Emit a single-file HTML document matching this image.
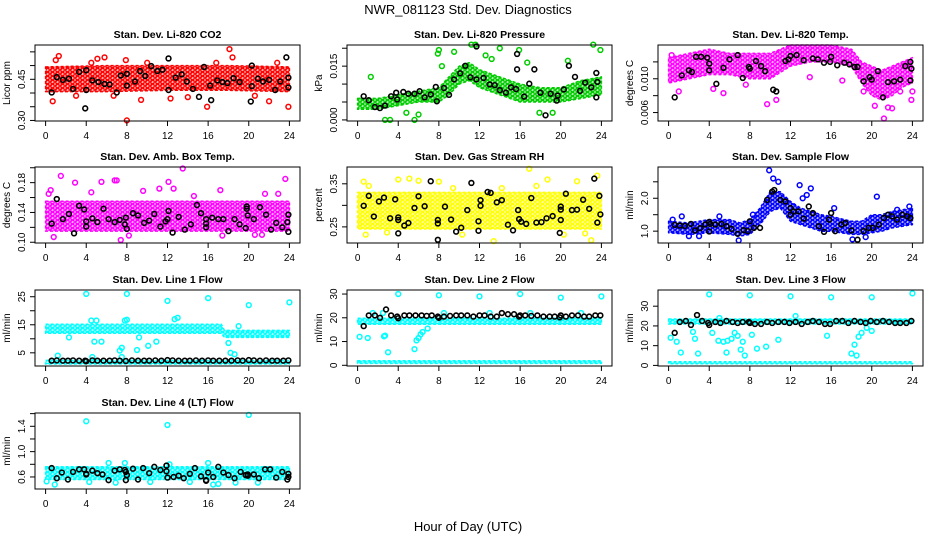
<!DOCTYPE html>
<html><head><meta charset="utf-8"><style>
body{margin:0;background:#fff;}
svg{display:block;font-family:"Liberation Sans",sans-serif;}
</style></head><body>
<svg id="c" width="936" height="540" viewBox="0 0 936 540">
<text x="468" y="14" text-anchor="middle" font-size="13">NWR_081123 Std. Dev. Diagnostics</text>
<text x="468" y="531" text-anchor="middle" font-size="13">Hour of Day (UTC)</text>
</svg>
<script>
// ---- data arrays ----
const xTicks = [0,4,8,12,16,20,24];
// CO2
const co2Hours=[0,6,12,18,24], co2Lower=[0.405,0.405,0.41,0.41,0.405], co2Upper=[0.495,0.50,0.50,0.50,0.495];
const co2Black=[[0.6,0.402],[1.1,0.458],[1.7,0.448],[2.3,0.452],[2.7,0.415],[3.3,0.477],[3.9,0.344],[4.0,0.411],[4.0,0.483],[4.6,0.446],[5.2,0.44],[5.8,0.433],[6.3,0.431],[7.0,0.402],[7.4,0.464],[8.0,0.47],[8.0,0.427],[8.8,0.442],[9.3,0.48],[9.8,0.462],[10.4,0.498],[11.0,0.48],[11.5,0.485],[12.1,0.411],[12.1,0.526],[12.8,0.456],[13.4,0.468],[13.9,0.442],[14.5,0.415],[15.1,0.386],[15.6,0.495],[16.2,0.427],[16.3,0.374],[16.9,0.446],[17.4,0.44],[17.9,0.436],[18.5,0.454],[19.1,0.44],[20.2,0.369],[20.3,0.425],[20.3,0.50],[20.9,0.452],[21.4,0.442],[22.0,0.448],[22.6,0.411],[23.1,0.442],[23.7,0.53],[23.9,0.456],[23.9,0.42]];
const co2Out=[[8.0,0.30],[18.1,0.56],[1.3,0.535],[5.1,0.525],[0.7,0.37],[15.9,0.35],[23.9,0.35],[1.0,0.52],[4.5,0.51],[5.8,0.53],[7.9,0.52],[10.0,0.51],[16.8,0.51],[18.4,0.53],[22.8,0.51],[9.4,0.375],[12.3,0.38],[20.6,0.39],[22.0,0.37],[3.0,0.39],[6.7,0.39],[14.0,0.385]];
const co2Ticks=[0.30,0.35,0.40,0.45,0.50,0.55], co2Labels=["0.30","","","0.45","",""];
// Pressure
const prHours=[0,2,4,6,8,9,10,11,12,14,16,18,20,22,24];
const prLower=[0.003,0.003,0.004,0.005,0.005,0.007,0.010,0.011,0.009,0.007,0.005,0.005,0.005,0.006,0.007];
const prUpper=[0.006,0.006,0.007,0.008,0.009,0.012,0.015,0.016,0.014,0.012,0.010,0.009,0.009,0.011,0.012];
const prBlack=[[0.6,0.0066],[1.1,0.0055],[1.7,0.0036],[2.2,0.0033],[2.7,0.004],[3.3,0.0066],[3.8,0.0076],[3.9,0.0057],[4.5,0.0078],[5.0,0.0073],[5.6,0.0073],[6.1,0.008],[6.6,0.0063],[7.2,0.0071],[7.7,0.0092],[7.8,0.0052],[8.5,0.0089],[9.0,0.007],[9.5,0.0113],[10.1,0.013],[10.6,0.0151],[11.1,0.0119],[11.7,0.0113],[11.7,0.0205],[12.4,0.0117],[13.0,0.0099],[13.5,0.0097],[14.0,0.0083],[14.6,0.0076],[15.1,0.0091],[15.6,0.0086],[15.7,0.0184],[15.7,0.0141],[16.4,0.0065],[16.9,0.0101],[17.4,0.0141],[18.0,0.0076],[18.5,0.0013],[19.0,0.0073],[19.6,0.0054],[19.7,0.0068],[20.3,0.0085],[20.8,0.0151],[21.4,0.012],[21.9,0.0081],[22.4,0.0104],[23.0,0.0091],[23.5,0.0131],[23.5,0.0063],[23.6,0.0106]];
const prOut=[[2.7,0],[3.2,0],[5.6,0],[8.0,0.0195],[9.5,0.019],[11.2,0.021],[11.6,0.021],[14.0,0.02],[15.9,0.0195],[23.2,0.021],[23.9,0.0195],[1.3,0.012],[4.8,0.002],[7.9,0.0185],[17.9,0.002],[6.0,0.0015],[19.2,0.002],[8.3,0.015],[12.6,0.018],[13.2,0.017],[16.7,0.016],[20.7,0.0165]];
const prTicks=[0,0.005,0.010,0.015,0.020], prLabels=["0.000","","","0.015",""];
// Li-820 temp
const tpHours=[0,2,4,6,8,10,12,14,16,18,19,20,21,22,23,24];
const tpLower=[0.0095,0.0100,0.0105,0.0105,0.0100,0.0100,0.0115,0.0120,0.0120,0.0115,0.0095,0.0080,0.0075,0.0080,0.0090,0.0095];
const tpUpper=[0.0125,0.0130,0.0135,0.0130,0.0130,0.0130,0.0140,0.0140,0.0140,0.0135,0.0120,0.0115,0.0110,0.0115,0.0120,0.0125];
const tpBlack=[[0.6,0.0078],[1.3,0.0104],[2.0,0.011],[2.3,0.0108],[2.7,0.0126],[3.2,0.0126],[3.8,0.0125],[4.0,0.0118],[4.0,0.011],[4.7,0.0094],[5.4,0.0113],[6.0,0.0123],[6.8,0.0128],[7.3,0.0101],[7.9,0.0114],[8.0,0.0112],[8.6,0.0121],[9.1,0.0115],[9.5,0.0109],[10.3,0.0087],[10.6,0.0085],[11.5,0.0121],[11.8,0.0123],[12.0,0.0127],[12.6,0.0128],[13.3,0.0122],[14.2,0.0124],[14.7,0.0123],[15.3,0.0119],[15.9,0.012],[16.0,0.0126],[16.6,0.0116],[17.3,0.0119],[17.8,0.0117],[18.3,0.0114],[18.6,0.0114],[19.2,0.0097],[19.8,0.0102],[20.0,0.0099],[20.6,0.0109],[21.1,0.0078],[21.6,0.0096],[22.2,0.0097],[22.8,0.0099],[23.3,0.0115],[23.8,0.012],[23.9,0.0112],[23.8,0.0098]];
const tpOut=[[21.2,0.0053],[20.3,0.0068],[22.0,0.0065],[21.6,0.0066],[9.7,0.007],[5.4,0.0083],[0.3,0.0128],[24.0,0.0085],[23.9,0.0075],[10.6,0.0075],[7.6,0.0093],[4.4,0.0088],[1.0,0.0085],[19.2,0.0085],[22.8,0.0085],[13.9,0.0102],[17.1,0.0098]];
const tpTicks=[0.006,0.008,0.010,0.012], tpLabels=["0.006","","0.010",""];
// Amb box temp
const abHours=[0,24], abLower=[0.115,0.115], abUpper=[0.155,0.155];
const abBlack=[[0.6,0.125],[1.1,0.158],[1.7,0.131],[2.3,0.138],[2.8,0.112],[3.3,0.149],[3.8,0.144],[4.0,0.128],[4.0,0.121],[4.6,0.132],[5.1,0.127],[5.7,0.145],[6.2,0.131],[6.8,0.127],[7.3,0.13],[7.8,0.124],[7.9,0.133],[8.0,0.118],[8.6,0.139],[9.1,0.136],[9.7,0.126],[10.2,0.129],[10.7,0.138],[11.3,0.121],[11.8,0.128],[12.0,0.131],[12.1,0.142],[12.5,0.113],[13.1,0.134],[13.7,0.117],[14.3,0.124],[14.9,0.15],[15.3,0.139],[15.8,0.131],[15.8,0.125],[15.8,0.12],[16.4,0.133],[17.0,0.131],[17.5,0.131],[18.0,0.115],[18.6,0.131],[19.1,0.124],[19.7,0.119],[19.8,0.145],[19.8,0.148],[19.9,0.136],[20.5,0.131],[21.1,0.147],[21.7,0.137],[22.2,0.117],[22.7,0.126],[23.3,0.12],[23.8,0.127],[23.9,0.137],[23.9,0.114]];
const abOut=[[1.5,0.189],[2.9,0.18],[5.5,0.181],[6.8,0.183],[7.0,0.183],[13.5,0.199],[23.6,0.185],[0.8,0.107],[7.4,0.103],[12.1,0.181],[0.3,0.165],[17.4,0.109],[0.5,0.17],[4.5,0.167],[9.6,0.169],[11.2,0.172],[12.6,0.172],[14.6,0.162],[17.2,0.17],[21.6,0.165],[22.9,0.165],[8.2,0.109],[20.6,0.11],[21.3,0.11]];
const abTicks=[0.10,0.12,0.14,0.16,0.18,0.20], abLabels=["0.10","","0.14","","0.18",""];
// Gas stream RH
const rhHours=[0,24], rhLower=[0.245,0.245], rhUpper=[0.33,0.33];
const rhBlack=[[0.6,0.299],[1.1,0.322],[1.6,0.274],[2.1,0.309],[2.6,0.318],[3.2,0.27],[3.7,0.314],[4.0,0.272],[4.0,0.266],[4.0,0.235],[4.6,0.253],[5.0,0.259],[5.6,0.294],[6.0,0.321],[6.6,0.298],[7.2,0.356],[7.9,0.266],[7.9,0.258],[7.9,0.22],[8.6,0.297],[9.2,0.267],[9.7,0.239],[10.2,0.248],[10.8,0.289],[11.2,0.352],[11.9,0.241],[11.9,0.263],[12.1,0.299],[12.1,0.312],[12.8,0.331],[13.1,0.329],[13.7,0.307],[14.2,0.312],[14.8,0.255],[15.3,0.242],[15.8,0.289],[15.9,0.268],[16.1,0.262],[16.6,0.257],[17.1,0.317],[17.6,0.26],[18.1,0.261],[18.6,0.27],[19.2,0.275],[19.9,0.236],[20.0,0.266],[20.0,0.297],[20.0,0.29],[20.5,0.327],[21.1,0.289],[21.6,0.29],[22.2,0.313],[22.8,0.292],[23.3,0.362],[23.6,0.26],[23.8,0.322],[23.9,0.279]];
const rhOut=[[16.9,0.385],[13.4,0.217],[23.0,0.219],[0.6,0.355],[4.0,0.36],[5.1,0.362],[6.0,0.357],[18.7,0.36],[21.6,0.356],[23.6,0.369],[14.2,0.34],[8.0,0.355],[1.1,0.345],[9.4,0.34],[17.6,0.345],[0.8,0.232],[10.3,0.232],[20.3,0.232],[22.4,0.235],[2.9,0.237]];
const rhTicks=[0.25,0.30,0.35], rhLabels=["0.25","","0.35"];
// Sample flow
const sfHours=[0,2,4,6,7,8,9,10,11,12,13,14,15,16,18,19,20,21,22,24];
const sfLower=[0.95,0.9,0.95,0.9,0.85,0.9,1.2,1.6,1.7,1.3,1.2,1.1,1.0,1.0,0.9,0.9,0.95,1.0,1.1,1.2];
const sfUpper=[1.3,1.25,1.35,1.35,1.25,1.35,1.7,2.2,2.2,1.9,1.7,1.6,1.5,1.45,1.3,1.3,1.5,1.5,1.6,1.7];
const sfBlack=[[0.6,1.19],[1.1,1.17],[1.6,1.16],[2.2,1.22],[2.6,1.02],[3.1,1.09],[3.6,1.2],[4.0,1.28],[4.0,0.99],[4.1,1.22],[4.6,1.2],[5.2,1.22],[5.7,1.15],[6.2,1.07],[6.8,0.92],[7.4,1.03],[7.8,1.0],[8.0,1.3],[8.4,1.1],[9.0,1.1],[9.7,1.95],[10.2,2.2],[10.4,2.25],[11.0,1.95],[11.5,1.9],[12.0,1.5],[12.0,1.7],[12.3,1.6],[12.8,1.6],[13.3,1.38],[13.8,1.75],[14.2,1.55],[14.8,1.15],[15.3,0.98],[15.8,1.35],[16.0,1.55],[16.4,1.0],[17.0,1.2],[17.4,1.25],[18.0,1.02],[18.6,0.74],[19.2,1.0],[19.7,1.1],[20.1,1.1],[20.7,1.2],[21.2,1.4],[21.6,1.5],[22.0,1.45],[22.5,1.35],[23.0,1.5],[23.5,1.45],[23.8,1.4]];
const sfOut=[[9.9,2.85],[10.3,2.6],[10.8,2.5],[12.9,2.4],[14.0,2.3],[20.5,2.05],[0.4,1.35],[1.3,1.45],[6.9,0.72],[18.1,0.75],[23.7,1.75],[22.5,1.65],[13.2,2.0],[13.6,2.1],[16.3,1.7],[5.0,1.45],[8.3,1.5],[2.0,0.85],[3.0,0.85],[19.4,0.82]];
const sfTicks=[1.0,1.5,2.0,2.5], sfLabels=["1.0","","2.0",""];
// Line 1 flow
const l1Hours=[0,17.3,17.6,24], l1Lower=[12,12,10.5,10.5], l1Upper=[15.2,15.2,13,13];
const l1BaseHours=[0,24], l1BaseLower=[1.0,1.0], l1BaseUpper=[2.3,2.3];
const l1Black=[[0.6,2.2],[1.1,2.3],[1.7,2.2],[2.2,2.2],[2.7,2.3],[3.3,2.2],[3.9,2.2],[4.0,2.0],[4.6,2.3],[5.1,2.2],[5.7,2.2],[6.3,2.2],[6.8,2.3],[7.3,2.2],[7.9,2.1],[8.5,2.3],[9.1,2.2],[9.7,2.2],[10.2,2.2],[10.8,2.3],[11.4,2.2],[12.0,2.4],[12.5,2.3],[13.1,2.2],[13.7,2.2],[14.2,2.2],[14.8,2.3],[15.4,2.2],[16.0,2.3],[16.5,2.2],[17.1,2.2],[17.7,2.2],[18.3,2.2],[18.9,2.3],[19.4,2.2],[20.0,2.4],[20.5,2.3],[21.1,2.2],[21.7,2.3],[22.3,2.2],[22.8,2.2],[23.4,2.2],[23.9,2.3]];
const l1Out=[[4.0,26],[8.0,26],[12.0,23.5],[16.0,24.5],[20.0,22],[24.0,23],[4.5,16.5],[5.0,16.5],[4.8,9],[5.5,9],[7.3,5.8],[7.5,6.8],[9.0,6],[9.2,10.5],[10.1,7.5],[10.9,9],[7.8,16.5],[8.0,16.8],[12.7,17],[13.0,17.5],[18.0,8.5],[18.2,5],[18.6,4.5],[19.0,14.5],[1.2,4],[4.6,3.5],[7.5,3.5],[2.3,10.5]];
const l1Ticks=[5,10,15,20,25], l1Labels=["5","","15","","25"];
// Line 2 flow
const l2Hours=[0,24], l2Lower=[17.3,17.3], l2Upper=[19.8,19.8];
const l2BaseHours=[0,24], l2BaseLower=[0.8,0.8], l2BaseUpper=[1.9,1.9];
const l2Black=[[0.6,16.5],[1.1,21],[1.7,21],[2.2,20],[2.8,23.5],[3.3,21],[3.9,20.5],[4.0,19.8],[4.6,21],[5.1,21],[5.7,21],[6.3,21],[6.8,20.8],[7.3,21],[7.9,20.5],[8.0,20],[8.5,20.5],[9.1,20.8],[9.7,21],[10.2,21],[10.8,21],[11.4,20.5],[12.0,21],[12.5,21],[13.1,20.5],[13.7,20.5],[14.2,22],[14.8,21.5],[15.4,21.5],[15.9,20.5],[16.0,21],[16.5,21],[17.1,20.8],[17.7,21],[18.3,20.5],[18.9,20.5],[19.4,20.5],[19.9,20.2],[20.0,21],[20.5,20.5],[21.1,21],[21.7,21],[22.3,20.5],[22.8,20.5],[23.4,21],[23.9,21]];
const l2Out=[[4.0,30],[8.0,29.5],[12.0,29],[16.0,30],[20.0,28.5],[24.0,29],[0.2,12],[1.0,11.5],[2.6,12.2],[3.0,5.5],[5.6,6.8],[5.8,10.5],[6.0,11.5],[6.2,13],[6.4,14],[6.9,15.5],[2.7,12.5],[1.5,22],[2.5,22],[8.5,22],[13,22],[17,22],[22,22]];
const l2Ticks=[0,10,20,30], l2Labels=["0","10","20","30"];
// Line 3 flow
const l3Hours=[0,24], l3Lower=[21,21], l3Upper=[23.5,23.5];
const l3BaseHours=[0,24], l3BaseLower=[0.8,0.8], l3BaseUpper=[1.9,1.9];
const l3Black=[[0.6,16.5],[1.1,22],[1.7,22.5],[2.2,20.5],[2.8,25.5],[3.3,22.5],[3.9,21.5],[4.0,20.5],[4.6,22],[5.1,21.5],[5.7,22.5],[6.3,22],[6.8,21.5],[7.3,22],[7.9,22],[8.0,21.5],[8.5,21],[9.1,21],[9.7,22],[10.2,21.5],[10.8,22],[11.4,22],[11.9,21.5],[12.5,22],[13.1,21],[13.7,22],[14.2,22.5],[14.8,22],[15.4,21],[15.9,21],[16.5,22.5],[17.1,22.5],[17.7,21.5],[18.3,22.5],[18.9,22],[19.4,21.5],[19.9,22.5],[20.5,22],[21.1,22.5],[21.7,22],[22.3,21.5],[22.8,21.5],[23.4,21.5],[23.9,22.5]];
const l3Out=[[4.0,36],[8.0,35.5],[12.0,35],[16.0,34.5],[20.0,34.5],[24.0,36.5],[0.2,14],[0.8,12],[1.2,6.5],[2.4,17],[2.6,13.5],[2.9,6],[4.3,16.5],[4.9,12.5],[5.4,12],[5.7,6.5],[5.8,12.5],[6.2,13.5],[6.5,16.5],[6.8,15],[7.1,8],[7.3,12],[7.5,5],[8.2,15.5],[8.7,8.5],[9.6,9.5],[10.8,13],[15.6,15],[18.3,10.5],[18.0,6],[18.5,5],[18.7,14.5],[19.0,16.5],[19.5,19],[20.0,17.5],[12.5,25],[5,24]];
const l3Ticks=[0,10,20,30], l3Labels=["0","10","20","30"];
// Line 4 flow
const l4Hours=[0,24], l4Lower=[0.56,0.56], l4Upper=[0.76,0.76];
const l4Black=[[0.6,0.74],[1.1,0.58],[1.6,0.67],[2.2,0.56],[2.7,0.68],[3.3,0.72],[3.8,0.72],[4.0,0.65],[4.0,0.64],[4.6,0.7],[5.1,0.66],[5.6,0.64],[6.2,0.55],[6.8,0.7],[7.3,0.72],[7.8,0.71],[7.9,0.68],[7.9,0.55],[8.0,0.63],[8.6,0.73],[9.1,0.56],[9.6,0.74],[10.2,0.66],[10.7,0.76],[11.3,0.71],[11.9,0.69],[11.9,0.78],[12.0,0.59],[12.6,0.6],[13.1,0.62],[13.6,0.58],[14.2,0.65],[14.7,0.74],[15.3,0.61],[15.8,0.55],[15.8,0.54],[16.0,0.67],[16.5,0.6],[17.0,0.76],[17.5,0.67],[18.0,0.63],[18.6,0.58],[19.2,0.68],[19.7,0.63],[19.9,0.62],[19.9,0.64],[20.5,0.64],[21.0,0.58],[21.6,0.72],[22.1,0.72],[22.7,0.59],[23.3,0.68],[23.8,0.56],[23.9,0.65],[23.9,0.6]];
const l4Out=[[4.0,1.48],[12.0,1.42],[20.0,1.58],[0.9,0.48],[16.5,0.48],[7.8,0.82],[16.0,0.82],[6.2,0.82],[12.2,0.8],[0.1,0.53],[4.3,0.52],[6.9,0.51],[10.3,0.52],[14.2,0.52],[17.0,0.49],[20.9,0.51],[18.7,0.51]];
const l4Ticks=[0.6,0.8,1.0,1.2,1.4,1.6], l4Labels=["0.6","","1.0","","1.4",""];

// ---- rendering ----
const NS="http://www.w3.org/2000/svg";
const svg=document.getElementById('c');
function mk(tag,attrs,parent){const e=document.createElementNS(NS,tag);for(const k in attrs)e.setAttribute(k,attrs[k]);(parent||svg).appendChild(e);return e;}
const defs=mk('defs',{});
function pattern(id,color){
  const p=mk('pattern',{id:id,width:5,height:4,patternUnits:'userSpaceOnUse'},defs);
  mk('rect',{x:0,y:0,width:5,height:4,fill:color,opacity:0.3},p);
  mk('circle',{cx:2.5,cy:2,r:1.8,fill:'none',stroke:color,'stroke-width':1.3},p);
  mk('circle',{cx:0,cy:0,r:1.8,fill:'none',stroke:color,'stroke-width':1.3},p);
}
const colLeft=[35,347,658], rowTop=[45,167,290,413], W=265, H=76;
function panel(o){
  const g=mk('g',{});
  
  
  const L=colLeft[o.col], T=rowTop[o.row];
  const xs=h=>L+W*0.04+ (h/24)*W*0.92;
  const ys=v=>T+H-(v-o.ymin)/(o.ymax-o.ymin)*H;
  const pid='pat-'+o.name; pattern(pid,o.color);
  o.bands.forEach(b=>{
    let d='';
    b.h.forEach((h,i)=>{d+=(i?'L':'M')+xs(h).toFixed(1)+','+ys(b.up[i]).toFixed(1);});
    for(let i=b.h.length-1;i>=0;i--) d+='L'+xs(b.h[i]).toFixed(1)+','+ys(b.lo[i]).toFixed(1);
    const band=mk('path',{d:d+'Z',fill:'url(#'+pid+')',stroke:o.color,'stroke-width':1.5,'stroke-dasharray':'3 2','stroke-linejoin':'round'},g);
    
    
  });
  o.out.forEach(p=>{
    const c=mk('circle',{cx:xs(p[0]),cy:ys(p[1]),r:2.4,fill:'none',stroke:o.color,'stroke-width':1.5},g);
    
    
  });
  o.black.forEach(p=>{
    const c=mk('circle',{cx:xs(p[0]),cy:ys(p[1]),r:2.4,fill:'none',stroke:'#000','stroke-width':1.6},g);
    
    
  });
  const box=mk('rect',{x:L,y:T,width:W,height:H,fill:'none',stroke:'#000','stroke-width':1},g);
  
  
  xTicks.forEach(t=>{
    mk('line',{x1:xs(t),x2:xs(t),y1:T+H,y2:T+H+5,stroke:'#000'},g);
    const tx=mk('text',{x:xs(t),y:T+H+18,'text-anchor':'middle','font-size':10},g);
    tx.textContent=t;
    
    
  });
  o.ticks.forEach((t,i)=>{
    mk('line',{x1:L-5,x2:L,y1:ys(t),y2:ys(t),stroke:'#000'},g);
    if(o.labels[i]){
      const tx=mk('text',{x:L-10,y:ys(t),'text-anchor':'middle','font-size':10,transform:'rotate(-90 '+(L-10)+' '+ys(t)+')'},g);
      tx.textContent=o.labels[i];
      
      
    }
  });
  const yl=mk('text',{x:L-25,y:T+H/2,'text-anchor':'middle','font-size':10,transform:'rotate(-90 '+(L-25)+' '+(T+H/2)+')'},g);
  yl.textContent=o.ylab;
  
  
  const ti=mk('text',{x:L+W/2,y:T-7,'text-anchor':'middle','font-size':10.5,'font-weight':'bold'},g);
  ti.textContent=o.title;
  
  
}
panel({name:'co2-panel',col:0,row:0,ymin:0.298,ymax:0.575,color:'#ff0000',title:'Stan. Dev. Li-820 CO2',ylab:'Licor ppm',ticks:co2Ticks,labels:co2Labels,bands:[{h:co2Hours,lo:co2Lower,up:co2Upper}],black:co2Black,out:co2Out});
panel({name:'pressure-panel',col:1,row:0,ymin:-0.0003,ymax:0.0209,color:'#00cc00',title:'Stan. Dev. Li-820 Pressure',ylab:'kPa',ticks:prTicks,labels:prLabels,bands:[{h:prHours,lo:prLower,up:prUpper}],black:prBlack,out:prOut});
panel({name:'temp-panel',col:2,row:0,ymin:0.005,ymax:0.014,color:'#ff00ff',title:'Stan. Dev. Li-820 Temp.',ylab:'degrees C',ticks:tpTicks,labels:tpLabels,bands:[{h:tpHours,lo:tpLower,up:tpUpper}],black:tpBlack,out:tpOut});
panel({name:'amb-box-temp-panel',col:0,row:1,ymin:0.099,ymax:0.201,color:'#ff00ff',title:'Stan. Dev. Amb. Box Temp.',ylab:'degrees C',ticks:abTicks,labels:abLabels,bands:[{h:abHours,lo:abLower,up:abUpper}],black:abBlack,out:abOut});
panel({name:'rh-panel',col:1,row:1,ymin:0.2126,ymax:0.389,color:'#ffff00',title:'Stan. Dev. Gas Stream RH',ylab:'percent',ticks:rhTicks,labels:rhLabels,bands:[{h:rhHours,lo:rhLower,up:rhUpper}],black:rhBlack,out:rhOut});
panel({name:'sample-flow-panel',col:2,row:1,ymin:0.64,ymax:2.95,color:'#0000ff',title:'Stan. Dev. Sample Flow',ylab:'ml/min',ticks:sfTicks,labels:sfLabels,bands:[{h:sfHours,lo:sfLower,up:sfUpper}],black:sfBlack,out:sfOut});
panel({name:'line1-flow-panel',col:0,row:2,ymin:0.3,ymax:27.4,color:'#00ffff',title:'Stan. Dev. Line 1 Flow',ylab:'ml/min',ticks:l1Ticks,labels:l1Labels,bands:[{h:l1Hours,lo:l1Lower,up:l1Upper},{h:l1BaseHours,lo:l1BaseLower,up:l1BaseUpper}],black:l1Black,out:l1Out});
panel({name:'line2-flow-panel',col:1,row:2,ymin:-0.3,ymax:31.7,color:'#00ffff',title:'Stan. Dev. Line 2 Flow',ylab:'ml/min',ticks:l2Ticks,labels:l2Labels,bands:[{h:l2Hours,lo:l2Lower,up:l2Upper},{h:l2BaseHours,lo:l2BaseLower,up:l2BaseUpper}],black:l2Black,out:l2Out});
panel({name:'line3-flow-panel',col:2,row:2,ymin:-0.3,ymax:38.2,color:'#00ffff',title:'Stan. Dev. Line 3 Flow',ylab:'ml/min',ticks:l3Ticks,labels:l3Labels,bands:[{h:l3Hours,lo:l3Lower,up:l3Upper},{h:l3BaseHours,lo:l3BaseLower,up:l3BaseUpper}],black:l3Black,out:l3Out});
panel({name:'line4-flow-panel',col:0,row:3,ymin:0.41,ymax:1.61,color:'#00ffff',title:'Stan. Dev. Line 4 (LT) Flow',ylab:'ml/min',ticks:l4Ticks,labels:l4Labels,bands:[{h:l4Hours,lo:l4Lower,up:l4Upper}],black:l4Black,out:l4Out});
</script>
</body></html>
